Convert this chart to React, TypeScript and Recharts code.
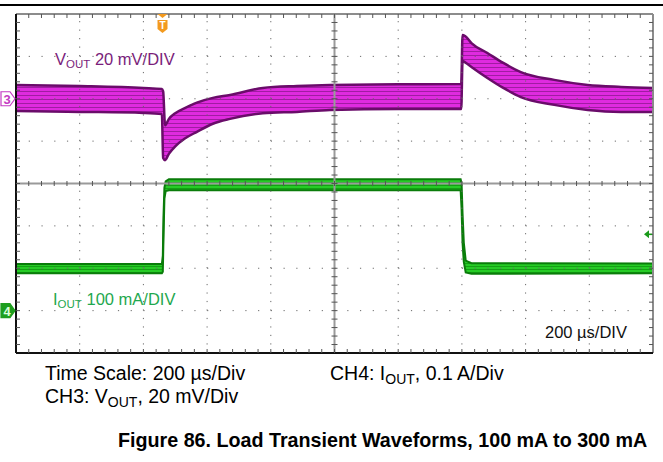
import {
  ComposedChart,
  Area,
  Scatter,
  XAxis,
  YAxis,
  ReferenceLine,
  ReferenceDot,
} from "recharts";

// VOUT band (mV around nominal), time in µs
const vTime = [0, 200, 400, 458, 462, 468, 480, 500, 530, 568, 618, 672, 775, 882, 986, 1200, 1398, 1402, 1410, 1430, 1480, 1530, 1585, 1690, 1795, 1900, 2000];
const vHigh = [6.5, 6.0, 5.1, 4.6, 3.5, -12.5, -9.5, -6.8, -4.4, -1.8, 0.4, 1.8, 5.1, 6.0, 6.5, 6.8, 7.0, 30.1, 29.6, 26.3, 21.6, 16.9, 12.6, 8.9, 6.5, 5.6, 5.1];
const vLow = [-5.8, -6.2, -6.7, -7.2, -28.0, -29.0, -26.0, -22.5, -18.8, -15.6, -11.8, -9.5, -6.9, -6.2, -5.3, -4.8, -4.8, 17.8, 17.2, 15.0, 9.8, 5.1, 0.8, -2.9, -5.3, -6.2, -6.2];

// IOUT band (mA)
const iTime = [0, 458, 461, 463, 466, 470, 480, 1000, 1396, 1399, 1402, 1406, 1412, 1430, 2000];
const iHigh = [110, 110, 130, 220, 290, 305, 310, 310, 310, 300, 230, 160, 118, 112, 111];
const iLow = [88, 88, 92, 170, 265, 282, 284, 284, 284, 240, 160, 115, 90, 87, 88];

const timeMajor = [200, 400, 600, 800, 1200, 1400, 1600, 1800];
const voutMajor = [-100, -80, -60, -20, 0, 20];
const timeMinor = Array.from({ length: 49 }, (_, k) => 40 + k * 40);
const voutMinor = Array.from({ length: 39 }, (_, k) => -116 + k * 4);

const vData = vTime.map((t, k) => ({ t, v: [vLow[k], vHigh[k]] }));
const iData = iTime.map((t, k) => ({ t, i: [iLow[k], iHigh[k]] }));
const centerH = timeMinor.map((t) => ({ t, v: -40 }));
const centerV = voutMinor.map((v) => ({ t: 1000, v }));
const topTicks = timeMinor.map((t) => ({ t, v: 40 }));
const bottomTicks = timeMinor.map((t) => ({ t, v: -120 }));
const leftTicks = voutMinor.map((v) => ({ t: 0, v }));
const rightTicks = voutMinor.map((v) => ({ t: 2000, v }));

const FONT = "'Liberation Sans', Arial, sans-serif";

const TriggerMark = ({ cx, cy }: { cx: number; cy: number }) => (
  <g>
    <polygon points={`${cx - 5},${cy} ${cx + 5},${cy} ${cx},${cy + 4}`} fill="#f39a1e" />
    <path d={`M${cx - 5},${cy + 6} h10 v9 l-5,4 l-5,-4 z`} fill="#f39a1e" />
    <text x={cx} y={cy + 15} textAnchor="middle" fill="#fff" fontSize={10} fontWeight="bold" fontFamily={FONT}>
      T
    </text>
  </g>
);

const ChannelMark = ({ cx, cy, label, fill, stroke, color }: any) => (
  <g>
    <polygon
      points={`${cx - 15},${cy - 7} ${cx - 6},${cy - 7} ${cx - 1},${cy} ${cx - 6},${cy + 7} ${cx - 15},${cy + 7}`}
      fill={fill}
      stroke={stroke}
      strokeWidth={1.2}
    />
    <text x={cx - 9} y={cy + 5} textAnchor="middle" fill={color} fontSize={13} fontWeight="bold" fontFamily={FONT}>
      {label}
    </text>
  </g>
);

const LevelArrow = ({ cx, cy }: { cx: number; cy: number }) => (
  <g>
    <polygon points={`${cx - 9},${cy} ${cx - 4},${cy - 4} ${cx - 4},${cy + 4}`} fill="#1a9a1a" />
    <line x1={cx - 4} x2={cx - 1} y1={cy} y2={cy} stroke="#1a9a1a" strokeWidth={1.5} />
  </g>
);

const tick = (dx1: number, dy1: number, dx2: number, dy2: number) => (p: any) => (
  <line x1={p.cx + dx1} y1={p.cy + dy1} x2={p.cx + dx2} y2={p.cy + dy2} stroke="#555" strokeWidth={1} />
);

export default function App() {
  return (
    <div style={{ position: "absolute", left: 0, top: 0, width: 663, height: 462, background: "#fff" }}>
      <ComposedChart width={663} height={462} margin={{ top: 14, right: 10, bottom: 109, left: 16 }}>
        <defs>
          <pattern id="vStripe" width="6" height="4" patternUnits="userSpaceOnUse">
            <rect width="6" height="4" fill="#df2bdf" />
            <rect y="3" width="6" height="1" fill="#a01ca2" />
          </pattern>
          <pattern id="iStripe" width="6" height="3" patternUnits="userSpaceOnUse">
            <rect width="6" height="3" fill="#26cc26" />
            <rect y="2" width="6" height="1" fill="#14a014" />
          </pattern>
        </defs>

        <XAxis xAxisId="t" dataKey="t" type="number" domain={[0, 2000]} hide />
        <YAxis yAxisId="v" dataKey="v" type="number" domain={[-120, 40]} hide />
        <YAxis yAxisId="i" type="number" domain={[-100, 700]} hide />

        {timeMajor.map((t) => (
          <ReferenceLine key={`gx${t}`} xAxisId="t" yAxisId="v" x={t} stroke="#6a6a6a" strokeWidth={1} strokeDasharray="1.2 7.28" />
        ))}
        {voutMajor.map((v) => (
          <ReferenceLine key={`gy${v}`} xAxisId="t" yAxisId="v" y={v} stroke="#6a6a6a" strokeWidth={1} strokeDasharray="1.2 11.54" />
        ))}

        <Area
          xAxisId="t"
          yAxisId="v"
          data={vData}
          dataKey="v"
          type="monotone"
          fill="url(#vStripe)"
          fillOpacity={1}
          stroke="#6a0c6a"
          strokeWidth={2.5}
          isAnimationActive={false}
          dot={false}
          activeDot={false}
        />
        <Area
          xAxisId="t"
          yAxisId="i"
          data={iData}
          dataKey="i"
          type="linear"
          fill="url(#iStripe)"
          fillOpacity={1}
          stroke="#0a7c0a"
          strokeWidth={2}
          isAnimationActive={false}
          dot={false}
          activeDot={false}
        />

        <ReferenceLine xAxisId="t" yAxisId="v" x={1000} stroke="#9a9a9a" strokeWidth={2} />
        <ReferenceLine xAxisId="t" yAxisId="v" y={-40} stroke="#9a9a9a" strokeWidth={2} />
        <ReferenceLine xAxisId="t" yAxisId="v" y={40} stroke="#8c8c8c" strokeWidth={2} />
        <ReferenceLine xAxisId="t" yAxisId="v" x={2000} stroke="#8c8c8c" strokeWidth={2} />
        <ReferenceLine xAxisId="t" yAxisId="v" x={0} stroke="#111" strokeWidth={2} />
        <ReferenceLine xAxisId="t" yAxisId="v" y={-120} stroke="#111" strokeWidth={2} />

        <Scatter xAxisId="t" yAxisId="v" data={centerH} dataKey="v" shape={tick(0, -2.5, 0, 2.5)} isAnimationActive={false} />
        <Scatter xAxisId="t" yAxisId="v" data={centerV} dataKey="v" shape={tick(-3, 0, 3, 0)} isAnimationActive={false} />
        <Scatter xAxisId="t" yAxisId="v" data={topTicks} dataKey="v" shape={tick(0, 0, 0, 4)} isAnimationActive={false} />
        <Scatter xAxisId="t" yAxisId="v" data={bottomTicks} dataKey="v" shape={tick(0, -4, 0, 0)} isAnimationActive={false} />
        <Scatter xAxisId="t" yAxisId="v" data={leftTicks} dataKey="v" shape={tick(0, 0, 4, 0)} isAnimationActive={false} />
        <Scatter xAxisId="t" yAxisId="v" data={rightTicks} dataKey="v" shape={tick(-4, 0, 0, 0)} isAnimationActive={false} />

        <ReferenceDot xAxisId="t" yAxisId="v" x={460} y={40} ifOverflow="visible" shape={TriggerMark as any} />
        <ReferenceDot xAxisId="t" yAxisId="v" x={0} y={0} ifOverflow="visible"
          shape={(p: any) => <ChannelMark {...p} label="3" fill="#fff" stroke="#c33bc3" color="#c33bc3" />} />
        <ReferenceDot xAxisId="t" yAxisId="i" x={0} y={0} ifOverflow="visible"
          shape={(p: any) => <ChannelMark {...p} label="4" fill="#1e9e1e" stroke="#1e9e1e" color="#d8ffd8" />} />
        <ReferenceDot xAxisId="t" yAxisId="i" x={2000} y={180} ifOverflow="visible" shape={LevelArrow as any} />

        <line x1={0} x2={663} y1={5} y2={5} stroke="#000" strokeWidth={2} />

        <text x={55} y={65} fill="#7b1e7b" fontSize={16.5} fontFamily={FONT}>
          V<tspan fontSize={11.5} dy={3}>OUT</tspan>
          <tspan dy={-3}> 20 mV/DIV</tspan>
        </text>
        <text x={53} y={305} fill="#1fa84f" fontSize={16.5} fontFamily={FONT}>
          I<tspan fontSize={11.5} dy={3}>OUT</tspan>
          <tspan dy={-3}> 100 mA/DIV</tspan>
        </text>
        <text x={545} y={338} fill="#111" fontSize={16.5} fontFamily={FONT}>
          200 µs/DIV
        </text>

        <text x={45} y={380} fill="#000" fontSize={19.5} fontFamily={FONT}>
          Time Scale: 200 µs/Div
        </text>
        <text x={330} y={380} fill="#000" fontSize={19.5} fontFamily={FONT}>
          CH4: I<tspan fontSize={14} dy={4}>OUT</tspan>
          <tspan dy={-4}>, 0.1 A/Div</tspan>
        </text>
        <text x={45} y={403} fill="#000" fontSize={19.5} fontFamily={FONT}>
          CH3: V<tspan fontSize={14} dy={4}>OUT</tspan>
          <tspan dy={-4}>, 20 mV/Div</tspan>
        </text>
        <text x={118} y={447} fill="#000" fontSize={19.7} fontWeight="bold" fontFamily={FONT}>
          Figure 86. Load Transient Waveforms, 100 mA to 300 mA
        </text>
      </ComposedChart>
    </div>
  );
}
